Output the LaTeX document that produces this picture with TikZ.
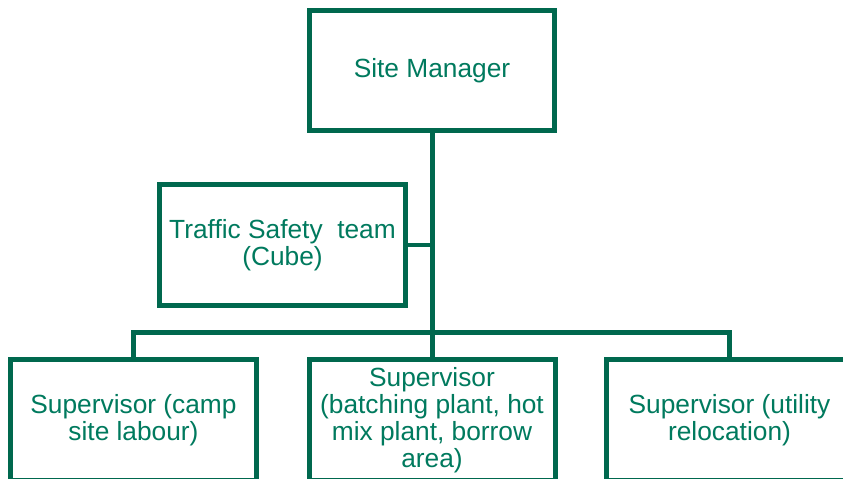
\documentclass[tikz,border=0pt]{standalone}
\usepackage{fontspec}
\setmainfont{Liberation Sans}
\definecolor{boxline}{RGB}{0,104,78}
\definecolor{boxtext}{RGB}{0,122,94}
\begin{document}
\begin{tikzpicture}[x=1pt,y=-1pt,
  orgbox/.style={draw=boxline, line width=5pt, fill=white, inner sep=0pt,
    minimum width=246pt, minimum height=121pt, text=boxtext, align=center,
    font=\fontsize{26.3}{27.2}\selectfont},
  conn/.style={draw=boxline, line width=5pt},
  thinconn/.style={draw=boxline, line width=4pt}]
\useasboundingbox (0,0) rectangle (843,479);
\fill[white] (0,0) rectangle (843,479);
% connectors drawn first
\coordinate (top) at (432,130);
\coordinate (bus) at (432,332.5);
\coordinate (busL) at (133.5,332.5);
\coordinate (busR) at (729.5,332.5);
\coordinate (tsj) at (432,245);
\node[orgbox, minimum width=245pt, minimum height=120pt] (sm) at (432,70.5) {Site Manager};
\node[orgbox] (ts) at (282.5,245) {Traffic Safety\ \ team\\(Cube)};
\node[orgbox] (b1) at (133.5,420) {Supervisor (camp\\site labour)};
\node[orgbox] (b2) at (432,420) {Supervisor\\(batching plant, hot\\mix plant, borrow\\area)};
\node[orgbox] (b3) at (729.5,420) {Supervisor (utility\\relocation)};
\draw[conn] (sm.south) -- (b2.north);
\draw[thinconn] (ts.east) -- (tsj);
\draw[conn, line join=miter] (b1.north) -- (busL) -- (busR) -- (b3.north);
\end{tikzpicture}
\end{document}
